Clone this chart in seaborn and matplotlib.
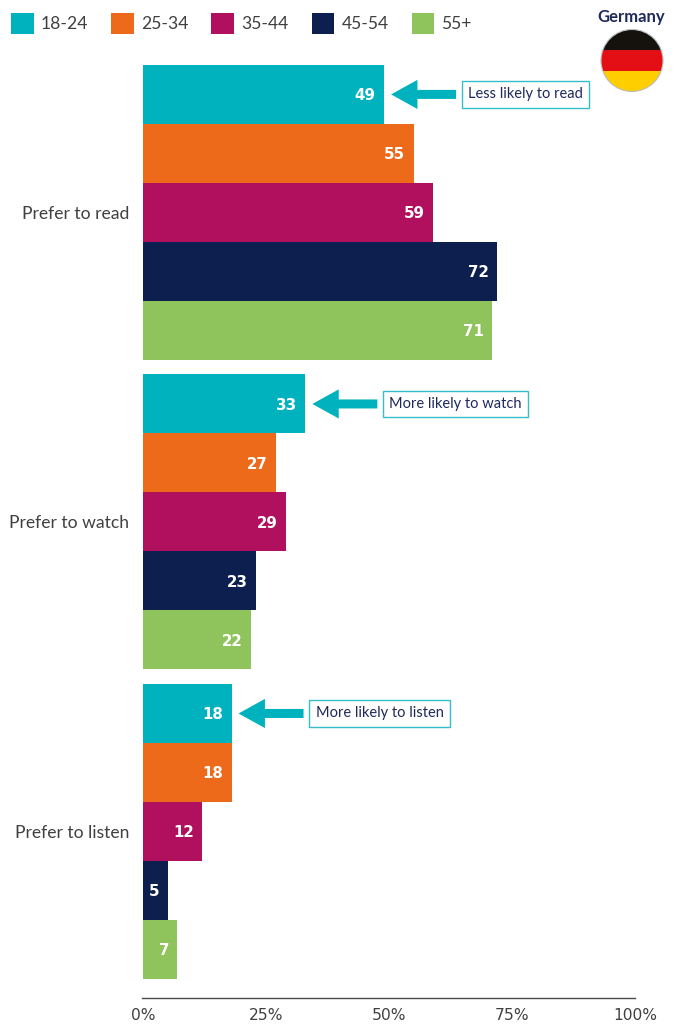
import matplotlib.pyplot as plt
from matplotlib.patches import Circle, Rectangle
import pandas as pd
import seaborn as sns

categories = ["Prefer to read", "Prefer to watch", "Prefer to listen"]
age_groups = ["18-24", "25-34", "35-44", "45-54", "55+"]
read_values = [49, 55, 59, 72, 71]
watch_values = [33, 27, 29, 23, 22]
listen_values = [18, 18, 12, 5, 7]
callouts = ["Less likely to read", "More likely to watch", "More likely to listen"]
colors = ["#00B2BE", "#EE6A1B", "#B0105E", "#0D1F4E", "#8FC45C"]
x_ticks = [0, 25, 50, 75, 100]
x_tick_labels = ["0%", "25%", "50%", "75%", "100%"]

navy = "#1F2A5C"
grey = "#404040"
W, H = 675, 1024

sns.set_theme(style="white")
plt.rcParams["font.family"] = ["Lato", "DejaVu Sans"]

df = pd.DataFrame({
    "category": [c for c in categories for _ in age_groups],
    "age": age_groups * 3,
    "value": read_values + watch_values + listen_values,
})

fig = plt.figure(figsize=(W / 100, H / 100), dpi=100)
# main axes placed in pixels: left 141.5, right 635, top 40, bottom 998
ax = fig.add_axes([141.5 / W, 1 - 998 / H, (635 - 141.5) / W, (998 - 40) / H])

sns.barplot(data=df, y="category", x="value", hue="age", order=categories,
            hue_order=age_groups, palette=colors, saturation=1, width=0.953,
            linewidth=0, ax=ax)

ax.set_xlim(-0.3, 100)
ax.set_ylim(2.538, -0.557)
ax.set_xlabel("")
ax.set_ylabel("")
sns.despine(ax=ax, left=True)
ax.spines["bottom"].set_color("#4A4A4A")
ax.spines["bottom"].set_linewidth(1.0)

ax.set_xticks(x_ticks, x_tick_labels, family="DejaVu Sans", fontsize=11.2, color=grey)
ax.tick_params(axis="x", length=0, pad=7.5)
ax.tick_params(axis="y", length=0, pad=9, labelsize=12.6, labelcolor=grey)

for container in ax.containers:
    labels = ax.bar_label(container, padding=-6, color="white", fontsize=10.8,
                          fontweight="bold", family="DejaVu Sans")
    for t in labels:
        t.set_ha("right")
        t.set_va("center_baseline")

# arrows and boxed notes next to the 18-24 bars
for i, (note, val) in enumerate(zip(callouts, [read_values[0], watch_values[0], listen_values[0]])):
    bar = ax.containers[0][i]
    y = bar.get_y() + bar.get_height() / 2
    ax.annotate("", xy=(val + 7 / 4.92, y), xytext=(val + 72 / 4.92, y),
                arrowprops=dict(width=6.5, headwidth=21, headlength=19, color=colors[0],
                                shrink=0, linewidth=0))
    ax.text(val + 84 / 4.92, y, note, ha="left", va="center", fontsize=10.5, color=navy,
            bbox=dict(boxstyle="square,pad=0.42", facecolor="white", edgecolor="#35BEC9",
                      linewidth=1))

sns.move_legend(ax, loc="upper left", bbox_to_anchor=(11 / W, 1 - 13.5 / H),
                bbox_transform=fig.transFigure, ncols=5, frameon=False, title=None,
                fontsize=12.6, handlelength=1.31, handleheight=1.4, handletextpad=0.4,
                columnspacing=1.31, borderpad=0, borderaxespad=0)
for t in ax.get_legend().get_texts():
    t.set_color(grey)

# flag badge, overlay axes in pixel units
over = fig.add_axes([0, 0, 1, 1], zorder=5)
over.set_xlim(0, W)
over.set_ylim(H, 0)
over.axis("off")
clip = Circle((632, 60.5), 31, transform=over.transData)
for top, color in [(29, "#15120E"), (50, "#E30F14"), (71, "#FFCE00")]:
    stripe = Rectangle((600, top), 64, 21.5, facecolor=color, linewidth=0)
    over.add_patch(stripe)
    stripe.set_clip_path(clip)
over.add_patch(Circle((632, 60.5), 31, facecolor="none", edgecolor="#BDBDBD", linewidth=0.8))
over.text(631, 17, "Germany", ha="center", va="center", fontsize=12,
          fontweight="bold", color=navy)

fig.savefig("out.png", dpi=100)
plt.close()
